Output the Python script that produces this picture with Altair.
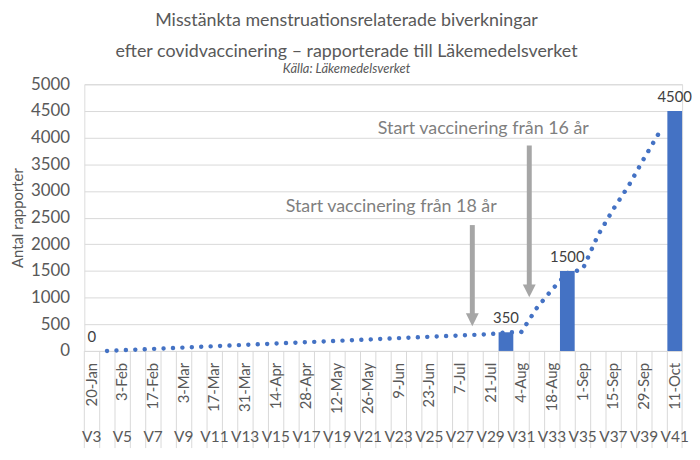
import altair as alt
import pandas as pd

# ---------------- data ----------------
weeks = [f"V{w}" for w in range(3, 42)]
label_weeks = [f"V{w}" for w in range(3, 42, 2)]
date_labels = ["20-Jan", "3-Feb", "17-Feb", "3-Mar", "17-Mar", "31-Mar", "14-Apr",
               "28-Apr", "12-May", "26-May", "9-Jun", "23-Jun", "7-Jul", "21-Jul",
               "4-Aug", "18-Aug", "1-Sep", "15-Sep", "29-Sep", "11-Oct"]

bar_weeks = ["V3", "V30", "V34", "V41"]
bar_values = [0, 350, 1500, 4500]

trend_weeks = [f"V{w}" for w in range(4, 41)]
trend_values = [0, 13, 25, 38, 50, 63, 76, 89, 101, 114, 126, 139, 151, 164, 176,
                189, 202, 214, 227, 240, 252, 265, 277, 290, 302, 315, 350, 355,
                800, 1150, 1460, 1530, 2170, 2660, 3100, 3610, 4100]

y_ticks = [0, 500, 1000, 1500, 2000, 2500, 3000, 3500, 4000, 4500, 5000]

annot_text = ["Start vaccinering från 18 år", "Start vaccinering från 16 år"]
annot_week = ["V23", "V29"]
annot_y = [2700, 4170]

arrow_week = ["V28", "V32"]
arrow_top = [2360, 3850]
arrow_tip = [465, 1005]

title_lines = ["Misstänkta menstruationsrelaterade biverkningar",
               "efter covidvaccinering – rapporterade till Läkemedelsverket"]
subtitle = "Källa: Läkemedelsverket"

# ---------------- style ----------------
W, H = 603, 269
FONT = "Lato"
BLUE = "#4472C4"
GREY_TXT = "#595959"
ARROW = "#A6A6A6"

bars_df = pd.DataFrame({"week": bar_weeks, "value": bar_values})
trend_df = pd.DataFrame({"week": trend_weeks, "value": trend_values})
dates_df = pd.DataFrame({"week": label_weeks, "date": date_labels})
weeks_df = pd.DataFrame({"week": weeks})

xscale = alt.Scale(domain=weeks, paddingInner=0.04, paddingOuter=0)
yscale = alt.Scale(domain=[0, 5000], nice=False)

YAX = alt.Axis(values=y_ticks, title="Antal rapporter",
               format="d", labelOverlap=False,
               domain=False, ticks=False, labelPadding=15,
               labelFontSize=17, labelColor=GREY_TXT, labelFont=FONT,
               titleFont=FONT, titleFontSize=15, titleColor=GREY_TXT,
               titleFontWeight="normal", titlePadding=5,
               gridColor="#D9D9D9", gridWidth=1)

def X(**kw):
    return alt.X("week:N", scale=xscale, axis=None, **kw)

def Y(field="value"):
    return alt.Y(f"{field}:Q", scale=yscale, axis=YAX)

bars = alt.Chart(bars_df).mark_bar(color=BLUE).encode(x=X(), y=Y())

bar_labels = alt.Chart(bars_df).mark_text(
    dy=-14, fontSize=15, color="#404040", font=FONT, baseline="middle"
).encode(x=X(), y=Y(), text="value:Q")

trend = alt.Chart(trend_df).mark_line(
    color=BLUE, strokeWidth=4.5, strokeCap="round", strokeDash=[0.01, 9.5]
).encode(x=X(), y=Y())

# category dividers in the axis area
dividers = alt.Chart(weeks_df).mark_rule(color="#D9D9D9", strokeWidth=1).encode(
    x=X(bandPosition=0), y=alt.value(H), y2=alt.value(H + 98))
divider_end = alt.Chart(pd.DataFrame({"week": [weeks[-1]]})).mark_rule(
    color="#D9D9D9", strokeWidth=1).encode(
    x=X(bandPosition=1), y=alt.value(H), y2=alt.value(H + 98))

date_text = alt.Chart(dates_df).mark_text(
    angle=270, align="right", baseline="middle", fontSize=15, color=GREY_TXT, font=FONT
).encode(x=X(), y=alt.value(H + 12), text="date:N")

week_text = alt.Chart(dates_df).mark_text(
    baseline="middle", fontSize=15.5, color=GREY_TXT, font=FONT
).encode(x=X(), y=alt.value(H + 87), text="week:N")

# arrows
arrow_layers = []
for wk, top, tip, bp in zip(arrow_week, arrow_top, arrow_tip, [0.3, 0.0]):
    adf = pd.DataFrame({"week": [wk], "top": [top], "tip": [tip], "base": [tip + 200]})
    shaft = alt.Chart(adf).mark_rule(color=ARROW, strokeWidth=5).encode(
        x=X(bandPosition=bp), y=Y("top"), y2="base:Q")
    head = alt.Chart(adf).mark_point(
        shape="M-0.65,-1.3 L0.65,-1.3 L0,0 Z", filled=True, color=ARROW,
        opacity=1, size=400, strokeWidth=0
    ).encode(x=X(bandPosition=bp), y=Y("tip"))
    arrow_layers += [shaft, head]

annot_layers = []
for txt, wk, yv in zip(annot_text, annot_week, annot_y):
    tdf = pd.DataFrame({"week": [wk], "value": [yv], "label": [txt]})
    annot_layers.append(alt.Chart(tdf).mark_text(
        fontSize=18, color="#7F7F7F", font=FONT, align="center", baseline="middle"
    ).encode(x=X(bandPosition=0), y=Y(), text="label:N"))

chart = alt.layer(
    bars, dividers, divider_end, trend, bar_labels, date_text, week_text,
    *arrow_layers, *annot_layers
).properties(
    width=W, height=H,
    autosize="none",
    padding={"left": 77, "top": 75, "right": 10, "bottom": 100},
    title=alt.TitleParams(
        text=title_lines, subtitle=subtitle, anchor="middle", frame="group",
        dx=-37, offset=-1, font=FONT, fontSize=18, fontWeight="normal",
        color=GREY_TXT, lineHeight=31, subtitleFont=FONT, subtitleFontSize=13,
        subtitleFontStyle="italic", subtitleColor=GREY_TXT, subtitlePadding=3)
).configure_view(stroke=None).configure(background="white")

chart.save("out.html", embed_options={"renderer": "svg", "actions": False})
